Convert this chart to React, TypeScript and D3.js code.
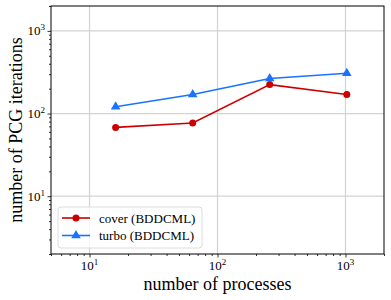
import React, { useEffect, useRef } from 'react';
import * as d3 from 'd3';

// processes on x, PCG iterations on y
const processes = [16, 64, 256, 1024];
const coverIters = [68, 77, 224, 170];
const turboIters = [121, 170, 265, 307];
const seriesNames = ['cover (BDDCML)', 'turbo (BDDCML)'];
const majorTicks = [10, 100, 1000];

const FONT = 'Liberation Serif, Times New Roman, DejaVu Serif, serif';

const App: React.FC = () => {
  const svgRef = useRef<SVGSVGElement>(null);

  useEffect(() => {
    if (!svgRef.current) return;
    const width = 391;
    const height = 300;
    const margin = { top: 6, right: 7, bottom: 46, left: 51 };
    const innerW = width - margin.left - margin.right;
    const innerH = height - margin.top - margin.bottom;

    const root = d3.select(svgRef.current);
    root.selectAll('*').remove();
    root.attr('width', width).attr('height', height).attr('font-family', FONT);

    const g = root.append('g').attr('transform', `translate(${margin.left},${margin.top})`);

    const x = d3.scaleLog().domain([5, 2000]).range([0, innerW]);
    const y = d3.scaleLog().domain([2, 2000]).range([innerH, 0]);

    // minor tick values (2..9 of each decade)
    const minor = (lo: number, hi: number) => {
      const out: number[] = [];
      for (let dec = 1; dec <= 1000; dec *= 10) {
        for (let k = 2; k <= 9; k++) {
          const v = k * dec;
          if (v >= lo && v <= hi) out.push(v);
        }
      }
      return out;
    };

    // grid
    g.append('g')
      .selectAll('line')
      .data(majorTicks)
      .join('line')
      .attr('x1', d => x(d)).attr('x2', d => x(d))
      .attr('y1', 0).attr('y2', innerH)
      .attr('stroke', '#d3d3d3').attr('stroke-width', 1.2);
    g.append('g')
      .selectAll('line')
      .data(majorTicks)
      .join('line')
      .attr('y1', d => y(d)).attr('y2', d => y(d))
      .attr('x1', 0).attr('x2', innerW)
      .attr('stroke', '#d3d3d3').attr('stroke-width', 1.2);

    // axes (ticks only)
    const xAxis = g.append('g').attr('transform', `translate(0,${innerH})`);
    xAxis.call(d3.axisBottom(x).tickValues(majorTicks).tickSize(3.5).tickFormat(() => ''));
    xAxis.append('g').call(d3.axisBottom(x).tickValues(minor(5, 2000)).tickSize(2).tickFormat(() => ''));
    const yAxis = g.append('g');
    yAxis.call(d3.axisLeft(y).tickValues(majorTicks).tickSize(3.5).tickFormat(() => ''));
    yAxis.append('g').call(d3.axisLeft(y).tickValues(minor(2, 2000)).tickSize(2).tickFormat(() => ''));
    g.selectAll('.domain').remove();
    g.selectAll('.tick line').attr('stroke', '#000').attr('stroke-width', 0.8);
    g.selectAll('.tick text').remove();

    majorTicks.forEach(d => {
      const e = String(Math.round(Math.log10(d)));
      const tx = g.append('text')
        .attr('x', x(d)).attr('y', innerH + 15.5)
        .attr('text-anchor', 'middle')
        .attr('font-family', FONT).attr('font-size', 13).attr('fill', '#000');
      tx.append('tspan').text('10');
      tx.append('tspan').attr('dy', -5).attr('font-size', 9).text(e);

      const ty = g.append('text')
        .attr('x', -6).attr('y', y(d) + 4.5)
        .attr('text-anchor', 'end')
        .attr('font-family', FONT).attr('font-size', 13).attr('fill', '#000');
      ty.append('tspan').text('10');
      ty.append('tspan').attr('dy', -5).attr('font-size', 9).text(e);
    });

    // frame
    g.append('rect')
      .attr('width', innerW).attr('height', innerH)
      .attr('fill', 'none').attr('stroke', '#000').attr('stroke-width', 1);

    // series
    const colors = ['#cc0000', '#1a73ff'];
    const data = [coverIters, turboIters];
    const line = d3.line<number>()
      .x((_, i) => x(processes[i]))
      .y(d => y(d));
    const tri = d3.symbol().type(d3.symbolTriangle).size(40);

    data.forEach((vals, si) => {
      g.append('path')
        .datum(vals)
        .attr('fill', 'none')
        .attr('stroke', colors[si])
        .attr('stroke-width', 1.6)
        .attr('d', line);
      if (si === 0) {
        g.selectAll(`.dot-${si}`)
          .data(vals)
          .join('circle')
          .attr('cx', (_, i) => x(processes[i]))
          .attr('cy', d => y(d))
          .attr('r', 3.5)
          .attr('fill', colors[si]);
      } else {
        g.selectAll(`.tri-${si}`)
          .data(vals)
          .join('path')
          .attr('d', tri)
          .attr('transform', (d, i) => `translate(${x(processes[i])},${y(d)})`)
          .attr('fill', colors[si]);
      }
    });

    // legend
    const lg = g.append('g').attr('transform', `translate(7,${innerH - 47})`);
    lg.append('rect')
      .attr('width', 144).attr('height', 41).attr('rx', 3)
      .attr('fill', 'white').attr('fill-opacity', 0.8)
      .attr('stroke', '#dcdcdc').attr('stroke-width', 1);
    seriesNames.forEach((name, i) => {
      const row = lg.append('g').attr('transform', `translate(0,${11 + i * 17.5})`);
      row.append('line')
        .attr('x1', 4).attr('x2', 32).attr('y1', 0).attr('y2', 0)
        .attr('stroke', colors[i]).attr('stroke-width', 1.6);
      if (i === 0) {
        row.append('circle').attr('cx', 18).attr('cy', 0).attr('r', 3.5).attr('fill', colors[i]);
      } else {
        row.append('path').attr('d', tri).attr('transform', 'translate(18,0)').attr('fill', colors[i]);
      }
      row.append('text')
        .attr('x', 41).attr('y', 4.5)
        .attr('font-family', FONT).attr('font-size', 13).attr('fill', '#000')
        .text(name);
    });

    // axis labels
    root.append('text')
      .attr('x', margin.left + innerW / 2).attr('y', 290)
      .attr('text-anchor', 'middle')
      .attr('font-family', FONT).attr('font-size', 18).attr('fill', '#000')
      .text('number of processes');
    root.append('text')
      .attr('transform', `translate(22,${margin.top + innerH / 2}) rotate(-90)`)
      .attr('text-anchor', 'middle')
      .attr('font-family', FONT).attr('font-size', 18).attr('fill', '#000')
      .text('number of PCG iterations');
  }, []);

  return (
    <div style={{ position: 'absolute', left: 0, top: 0 }}>
      <svg ref={svgRef} style={{ display: 'block' }}></svg>
    </div>
  );
};

export default App;
